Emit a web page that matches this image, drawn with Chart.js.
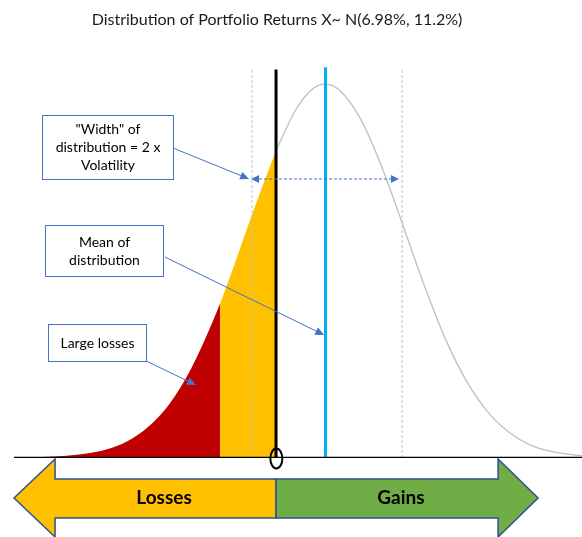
<!DOCTYPE html>
<html>
<head>
<meta charset="utf-8">
<script src="https://cdn.jsdelivr.net/npm/chart.js@4.4.1/dist/chart.umd.min.js"></script>
<style>
  html, body { margin:0; padding:0; background:#ffffff; }
  #wrap { width:582px; height:537px; }
</style>
</head>
<body>
<div id="wrap"><canvas id="c" width="582" height="537"></canvas></div>
<script>
// ---- data ----
const titleText = 'Distribution of Portfolio Returns X~ N(6.98%, 11.2%)';
// portfolio return (%) and density height (pdf x 100) of the curve
const retX    = [-36, -33, -30, -27, -24, -21, -18, -15, -12, -9, -7.9, -6, -3, 0, 3, 6, 6.98, 9, 12, 15, 18, 21, 24, 27, 30, 33, 36, 39, 42, 45];
const density = [0.00, 0.01, 0.02, 0.04, 0.08, 0.16, 0.30, 0.52, 0.85, 1.29, 1.47, 1.82, 2.39, 2.93, 3.34, 3.55, 3.56, 3.50, 3.22, 2.76, 2.20, 1.63, 1.12, 0.72, 0.43, 0.24, 0.12, 0.06, 0.03, 0.01];
const largeLossCut = -7.9;   // boundary between large losses (red) and losses (yellow)
const zeroReturn = 0;
const meanReturn = 6.98;
const bandLow = -3.4;        // left dashed guide
const bandHigh = 17.8;       // right dashed guide
const guideTop = 3.70;       // height the vertical guides reach
const meanTop = 3.72;
const arrowLabels = ['Losses', 'Gains'];
const noteTexts = [
  ['"Width" of', 'distribution = 2 x', 'Volatility'],
  ['Mean of', 'distribution'],
  ['Large losses']
];

// ---- derived series ----
const pts = retX.map((x, i) => ({ x: x, y: density[i] }));
const curvePts = pts.filter(p => p.x >= zeroReturn);
const redPts = pts.filter(p => p.x <= largeLossCut);
const yellowPts = pts.filter(p => p.x >= largeLossCut && p.x <= zeroReturn);
const vline = (x, top) => [{ x: x, y: 0 }, { x: x, y: top }];

// annotation anchors in data units (x = return %, y = density)
const notes = [
  { lines: noteTexts[0], box: [-33.0, 3.266, -14.55, 2.657], from: [-14.55, 2.952], to: [-3.8, 2.657] },
  { lines: noteTexts[1], box: [-32.6, 2.219, -15.95, 1.733], from: [-15.7, 1.914], to: [6.8, 1.171] },
  { lines: noteTexts[2], box: [-32.2, 1.276, -18.35, 0.924], from: [-18.35, 0.924], to: [-11.3, 0.695] }
];
const widthArrow = { y: 2.657, x1: -3.53, x2: 17.35 };

const FONT = 'Lato, "Open Sans", "DejaVu Sans", sans-serif';
const BLUE = '#4472C4';

function arrowHead(ctx, x1, y1, x2, y2, len, half) {
  const a = Math.atan2(y2 - y1, x2 - x1);
  ctx.beginPath();
  ctx.moveTo(x2, y2);
  ctx.lineTo(x2 - len * Math.cos(a) + half * Math.sin(a), y2 - len * Math.sin(a) - half * Math.cos(a));
  ctx.lineTo(x2 - len * Math.cos(a) - half * Math.sin(a), y2 - len * Math.sin(a) + half * Math.cos(a));
  ctx.closePath();
  ctx.fill();
}
function arrow(ctx, x1, y1, x2, y2) {
  const a = Math.atan2(y2 - y1, x2 - x1);
  const len = 9;
  ctx.beginPath();
  ctx.moveTo(x1, y1);
  ctx.lineTo(x2 - len * Math.cos(a), y2 - len * Math.sin(a));
  ctx.stroke();
  arrowHead(ctx, x1, y1, x2, y2, len, 4);
}

const overlay = {
  id: 'overlay',
  afterDatasetsDraw(chart) {
    const ctx = chart.ctx, xs = chart.scales.x, ys = chart.scales.y;
    const X = v => xs.getPixelForValue(v), Y = v => ys.getPixelForValue(v);
    ctx.save();
    // zero marker ellipse on the axis
    ctx.strokeStyle = '#000';
    ctx.lineWidth = 2;
    ctx.beginPath();
    ctx.ellipse(X(zeroReturn) + 0.3, Y(0) + 0.5, 6, 10, 0, 0, Math.PI * 2);
    ctx.stroke();

    // width dashed double arrow
    ctx.strokeStyle = BLUE; ctx.fillStyle = BLUE; ctx.lineWidth = 1;
    const wy = Y(widthArrow.y), wx1 = X(widthArrow.x1), wx2 = X(widthArrow.x2);
    ctx.setLineDash([3, 2]);
    ctx.beginPath(); ctx.moveTo(wx1 + 8, wy); ctx.lineTo(wx2 - 8, wy); ctx.stroke();
    ctx.setLineDash([]);
    arrowHead(ctx, wx2, wy, wx1, wy, 8, 4);
    arrowHead(ctx, wx1, wy, wx2, wy, 8, 4);

    // notes
    notes.forEach(n => {
      const bx1 = Math.round(X(n.box[0])) + 0.5, by1 = Math.round(Y(n.box[1])) + 0.5;
      const bx2 = Math.round(X(n.box[2])) + 0.5, by2 = Math.round(Y(n.box[3])) + 0.5;
      ctx.fillStyle = '#fff';
      ctx.fillRect(bx1, by1, bx2 - bx1, by2 - by1);
      ctx.strokeStyle = BLUE; ctx.lineWidth = 1;
      ctx.strokeRect(bx1, by1, bx2 - bx1, by2 - by1);
      ctx.fillStyle = '#000';
      ctx.font = '14px ' + FONT;
      ctx.textAlign = 'center'; ctx.textBaseline = 'middle';
      const cx = (bx1 + bx2) / 2, cy = (by1 + by2) / 2, lh = 18;
      n.lines.forEach((t, i) => {
        ctx.fillText(t, cx, cy + (i - (n.lines.length - 1) / 2) * lh);
      });
      ctx.strokeStyle = BLUE; ctx.fillStyle = BLUE; ctx.lineWidth = 1;
      arrow(ctx, X(n.from[0]), Y(n.from[1]), X(n.to[0]), Y(n.to[1]));
    });
    ctx.restore();
  },
  afterDraw(chart) {
    const ctx = chart.ctx, xs = chart.scales.x;
    const X = v => xs.getPixelForValue(v);
    const b = chart.chartArea.bottom;
    ctx.save();
    // title
    ctx.fillStyle = '#1a1a1a';
    ctx.font = '16px ' + FONT;
    ctx.textAlign = 'center'; ctx.textBaseline = 'middle';
    ctx.fillText(titleText, 277, 20);

    // bottom losses / gains arrow
    const tipL = X(-37), headL = X(-31.2), mid = X(zeroReturn), headR = X(31.35), tipR = X(37);
    const hTop = b + 1, sTop = b + 21, cY = b + 40, sBot = b + 60, hBot = b + 79;
    ctx.lineWidth = 1.5; ctx.strokeStyle = '#2F528F'; ctx.lineJoin = 'miter';
    ctx.fillStyle = '#FFC000';
    ctx.beginPath();
    ctx.moveTo(mid, sTop); ctx.lineTo(headL, sTop); ctx.lineTo(headL, hTop); ctx.lineTo(tipL, cY);
    ctx.lineTo(headL, hBot); ctx.lineTo(headL, sBot); ctx.lineTo(mid, sBot); ctx.closePath();
    ctx.fill(); ctx.stroke();
    ctx.fillStyle = '#70AD47';
    ctx.beginPath();
    ctx.moveTo(mid, sTop); ctx.lineTo(headR, sTop); ctx.lineTo(headR, hTop); ctx.lineTo(tipR, cY);
    ctx.lineTo(headR, hBot); ctx.lineTo(headR, sBot); ctx.lineTo(mid, sBot); ctx.closePath();
    ctx.fill(); ctx.stroke();
    ctx.fillStyle = '#000';
    ctx.font = 'bold 19px ' + FONT;
    ctx.fillText(arrowLabels[0], 164, cY);
    ctx.fillText(arrowLabels[1], 401, cY);
    ctx.restore();
  }
};

new Chart(document.getElementById('c'), {
  type: 'scatter',
  data: {
    datasets: [
      { data: curvePts, showLine: true, borderColor: '#BFBFBF', borderWidth: 1.3, pointRadius: 0, cubicInterpolationMode: 'monotone', order: 10 },
      { data: redPts, showLine: true, borderWidth: 0, borderColor: 'rgba(0,0,0,0)', backgroundColor: '#C00000', fill: 'origin', pointRadius: 0, cubicInterpolationMode: 'monotone', order: 9 },
      { data: yellowPts, showLine: true, borderWidth: 0, borderColor: 'rgba(0,0,0,0)', backgroundColor: '#FFC000', fill: 'origin', pointRadius: 0, cubicInterpolationMode: 'monotone', order: 8 },
      { data: vline(bandLow, guideTop), showLine: true, borderColor: '#BFBFBF', borderWidth: 1, borderDash: [3, 2], pointRadius: 0, order: 7 },
      { data: vline(bandHigh, guideTop), showLine: true, borderColor: '#BFBFBF', borderWidth: 1, borderDash: [3, 2], pointRadius: 0, order: 7 },
      { data: vline(meanReturn, meanTop), showLine: true, borderColor: '#00B0F0', borderWidth: 3, pointRadius: 0, order: 5 },
      { data: vline(zeroReturn, guideTop), showLine: true, borderColor: '#000000', borderWidth: 3, pointRadius: 0, order: 4 },
      { data: [{ x: -37, y: 0 }, { x: 43.2, y: 0 }], showLine: true, borderColor: '#000000', borderWidth: 2.5, pointRadius: 0, order: 3 }
    ]
  },
  options: {
    responsive: false,
    animation: false,
    devicePixelRatio: 1,
    layout: { padding: { left: 14, right: 0, top: 60, bottom: 79 } },
    plugins: { legend: { display: false }, tooltip: { enabled: false }, title: { display: false } },
    scales: {
      x: { type: 'linear', min: -37, max: 43.2, display: false },
      y: { type: 'linear', min: 0, max: 3.79, display: false }
    }
  },
  plugins: [overlay]
});
</script>
</body>
</html>
